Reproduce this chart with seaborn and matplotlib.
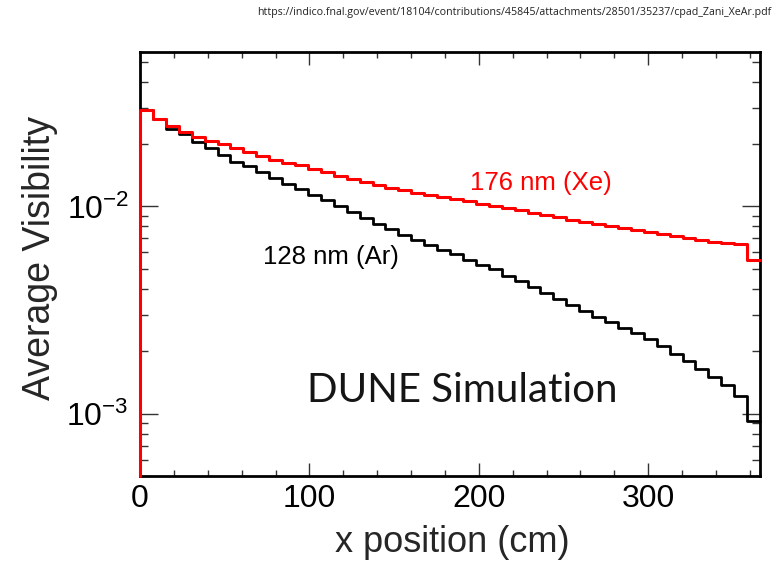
import numpy as np
import pandas as pd
import matplotlib
matplotlib.use("Agg")
import matplotlib.pyplot as plt
import seaborn as sns
from matplotlib.ticker import LogLocator, MultipleLocator, NullFormatter

# ---- data (average visibility per 48 x-bins) ----
x_range = [0.0, 366.0]
xe_176nm = [0.02920, 0.02634, 0.02445, 0.02280, 0.02172, 0.02078, 0.01997, 0.01910,
            0.01827, 0.01754, 0.01677, 0.01617, 0.01578, 0.01514, 0.01458, 0.01405,
            0.01355, 0.01311, 0.01268, 0.01230, 0.01194, 0.01164, 0.01135, 0.01105,
            0.01085, 0.01057, 0.01030, 0.01008, 0.00982, 0.00957, 0.00929, 0.00905,
            0.00885, 0.00863, 0.00841, 0.00823, 0.00805, 0.00787, 0.00766, 0.00750,
            0.00737, 0.00723, 0.00705, 0.00689, 0.00674, 0.00663, 0.00656, 0.00550]
ar_128nm = [0.02920, 0.02634, 0.02373, 0.02231, 0.02055, 0.01910, 0.01773, 0.01646,
            0.01558, 0.01458, 0.01370, 0.01286, 0.01210, 0.01138, 0.01069, 0.01000,
            0.00936, 0.00879, 0.00825, 0.00778, 0.00731, 0.00692, 0.00654, 0.00619,
            0.00586, 0.00554, 0.00524, 0.00496, 0.00464, 0.00436, 0.00409, 0.00383,
            0.00356, 0.00333, 0.00312, 0.00291, 0.00276, 0.00259, 0.00244, 0.00228,
            0.00211, 0.00195, 0.00179, 0.00165, 0.00151, 0.00137, 0.00122, 0.000923]
x_ticks = [0, 100, 200, 300]
y_limits = [5.0e-4, 5.56e-2]
label_xe = "176 nm (Xe)"
label_ar = "128 nm (Ar)"
watermark = "DUNE Simulation"
source_url = "https://indico.fnal.gov/event/18104/contributions/45845/attachments/28501/35237/cpad_Zani_XeAr.pdf"

sns.set_style("white")
plt.rcParams["font.family"] = ["Liberation Sans", "DejaVu Sans"]
plt.rcParams["mathtext.fontset"] = "custom"
plt.rcParams["mathtext.rm"] = "Liberation Sans"
plt.rcParams["mathtext.it"] = "Liberation Sans:italic"
plt.rcParams["mathtext.bf"] = "Liberation Sans:bold"

fig = plt.figure(figsize=(7.77, 5.61), dpi=100)
ax = fig.add_axes([140 / 777, 1 - 476 / 561, 620 / 777, 424 / 561])

ax.set_yscale("log")
ax.set_xlim(x_range)
ax.set_ylim(y_limits)

n = len(xe_176nm)
edges = np.linspace(x_range[0], x_range[1], n + 1)
y_floor = ax.get_ylim()[0]


def step_frame(vals):
    # ROOT-style histogram outline: rises from the axis floor at the first edge
    xs = np.concatenate([[edges[0]], edges])
    ys = np.concatenate([[y_floor], vals, [vals[-1]]])
    return pd.DataFrame({"x": xs, "y": ys})


sns.lineplot(data=step_frame(ar_128nm), x="x", y="y", ax=ax, color="black",
             lw=2.0, drawstyle="steps-post", estimator=None, sort=False,
             clip_on=False, zorder=4)
sns.lineplot(data=step_frame(xe_176nm), x="x", y="y", ax=ax, color="#ff0000",
             lw=2.2, drawstyle="steps-post", estimator=None, sort=False,
             clip_on=False, zorder=5)

ax.set_xlim(x_range)
ax.set_ylim(y_limits)
ax.set_xticks(x_ticks)
ax.xaxis.set_minor_locator(MultipleLocator(20))
ax.yaxis.set_major_locator(LogLocator(base=10))
ax.yaxis.set_minor_locator(LogLocator(base=10, subs=np.arange(2, 10)))
ax.yaxis.set_minor_formatter(NullFormatter())

ax.tick_params(axis="x", which="major", direction="in", length=9.5, width=1.0,
               top=True, bottom=True, labelsize=23, pad=6, colors="#333333",
               labelcolor="black")
ax.tick_params(axis="x", which="minor", direction="in", length=4.5, width=1.0,
               top=True, bottom=True, colors="#333333")
ax.tick_params(axis="y", which="major", direction="in", length=13, width=1.0,
               left=True, right=True, labelsize=23, pad=8, colors="#333333",
               labelcolor="black")
ax.tick_params(axis="y", which="minor", direction="in", length=6, width=1.0,
               left=True, right=True, colors="#333333")

for sp in ax.spines.values():
    sp.set_linewidth(2.0)
    sp.set_color("black")
    sp.set_visible(True)
    sp.set_zorder(3)

ax.set_xlabel("x position (cm)", fontsize=26)
ax.set_ylabel("Average Visibility", fontsize=27)
ax.xaxis.set_label_coords((452 - 140) / 620, -(543 - 476) / 424)
ax.xaxis.label.set_verticalalignment("center")
ax.yaxis.set_label_coords(-(140 - 40) / 620, (476 - 258) / 424)
ax.yaxis.label.set_verticalalignment("center")

ax.text((541 - 140) / 620, (476 - 183) / 424, label_xe, transform=ax.transAxes,
        color="#ff0000", fontsize=18.5, ha="center", va="center")
ax.text((331 - 140) / 620, (476 - 257) / 424, label_ar, transform=ax.transAxes,
        color="black", fontsize=18.5, ha="center", va="center")
ax.text((462 - 140) / 620, (476 - 391) / 424, watermark, transform=ax.transAxes,
        color="#151515", fontsize=29, ha="center", va="center",
        family=["Lato", "DejaVu Sans"], fontweight="normal")

fig.text(771 / 777, 1 - 12 / 561, source_url, ha="right", va="center",
         fontsize=7.7, color="#222222", family=["Open Sans", "DejaVu Sans"])

fig.savefig("out.png", dpi=100)
